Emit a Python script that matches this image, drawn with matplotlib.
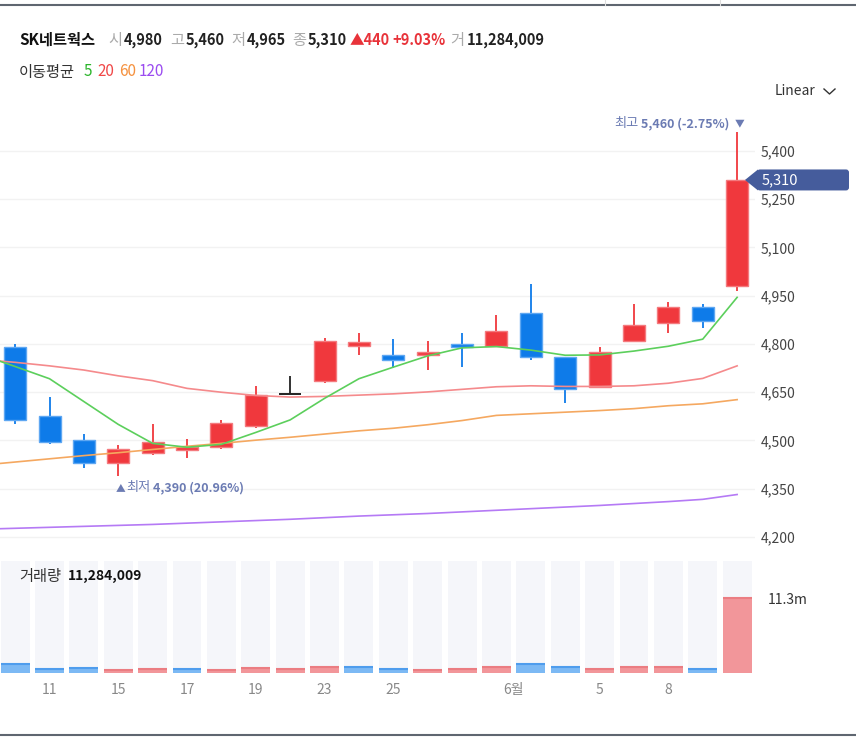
import numpy as np
import matplotlib
matplotlib.use('Agg')
import matplotlib.pyplot as plt
from matplotlib.patches import FancyBboxPatch, Polygon

plt.rcParams['font.family'] = ['Noto Sans CJK KR', 'DejaVu Sans']

# SK네트웍스 daily candles, 2023-05-10 ~ 2023-06-12
name = 'SK네트웍스'
dates = ['05-10', '05-11', '05-12', '05-15', '05-16', '05-17', '05-18', '05-19',
         '05-22', '05-23', '05-24', '05-25', '05-26', '05-30', '05-31', '06-01',
         '06-02', '06-05', '06-07', '06-08', '06-09', '06-12']
opens = [4790, 4575, 4500, 4430, 4460, 4470, 4480, 4545, 4645, 4685, 4795,
         4765, 4765, 4800, 4795, 4895, 4760, 4665, 4810, 4865, 4915, 4980]
highs = [4800, 4635, 4520, 4485, 4550, 4505, 4565, 4670, 4700, 4820, 4835,
         4815, 4810, 4835, 4890, 4985, 4760, 4790, 4925, 4930, 4925, 5460]
lows = [4550, 4490, 4415, 4390, 4455, 4445, 4475, 4540, 4645, 4680, 4765,
        4725, 4720, 4730, 4790, 4750, 4615, 4665, 4805, 4835, 4850, 4965]
closes = [4565, 4495, 4430, 4475, 4495, 4480, 4555, 4640, 4645, 4810, 4805,
          4750, 4775, 4790, 4840, 4760, 4660, 4775, 4860, 4915, 4870, 5310]
volumes = [1310000, 550000, 760000, 400000, 550000, 550000, 400000, 760000,
           550000, 960000, 900000, 550000, 400000, 550000, 900000, 1310000,
           900000, 550000, 900000, 900000, 550000, 11284009]

# moving averages, first value is the session before the visible window
ma_x = list(range(-1, 22))
ma5 = [4767, 4730, 4692, 4621, 4550, 4491, 4479, 4488, 4525, 4564, 4631, 4692,
       4728, 4763, 4788, 4792, 4781, 4765, 4766, 4778, 4793, 4815, 4945]
ma20 = [4752, 4743, 4732, 4719, 4701, 4686, 4662, 4650, 4640, 4635, 4637, 4641,
        4645, 4651, 4659, 4667, 4670, 4668, 4668, 4670, 4678, 4693, 4732]
ma60 = [4423, 4433, 4443, 4453, 4462, 4472, 4482, 4491, 4501, 4510, 4520, 4530,
        4538, 4549, 4562, 4578, 4583, 4588, 4593, 4599, 4608, 4614, 4627]
ma120 = [4224, 4227, 4230, 4233, 4236, 4239, 4243, 4247, 4251, 4255, 4260, 4265,
         4269, 4273, 4278, 4283, 4288, 4293, 4298, 4304, 4310, 4317, 4332]

price_ticks = [4200, 4350, 4500, 4650, 4800, 4950, 5100, 5250, 5400]
tick_pos = [1, 3, 5, 7, 9, 11, 14.5, 17, 19]
tick_labels = ['11', '15', '17', '19', '23', '25', '6월', '5', '8']

RED, RED_EDGE = '#f0383d', '#f47a7e'
BLUE, BLUE_EDGE = '#0e7be9', '#5ea7f2'
ANNO = '#6b7bb3'

W, H = 856, 740
fig = plt.figure(figsize=(W / 100, H / 100), dpi=100)


def rect(l, t, r, b):
    return [l / W, 1 - b / H, (r - l) / W, (b - t) / H]


ax = fig.add_axes(rect(0, 100, 755, 550))
axv = fig.add_axes(rect(0, 561, 755, 673))
ov = fig.add_axes([0, 0, 1, 1], zorder=5)
ov.set_xlim(0, W)
ov.set_ylim(H, 0)
ov.axis('off')

x = np.arange(len(closes))
xlim = (-0.44, 21.52)

# candles
for i in x:
    o, hi, lo, c = opens[i], highs[i], lows[i], closes[i]
    if c > o:
        col, ec = RED, RED_EDGE
    elif c < o:
        col, ec = BLUE, BLUE_EDGE
    else:
        col = ec = '#222222'
    ax.vlines(i, lo, hi, color=col, lw=1.3, zorder=3)
    if c == o:
        ax.hlines(c, i - 0.32, i + 0.32, color=col, lw=1.4, zorder=4)
    else:
        ax.bar(i, abs(c - o), 0.64, bottom=min(o, c), color=col,
               edgecolor=ec, linewidth=1, zorder=4)

ax.plot(ma_x, ma120, color='#b57af5', lw=1.2, zorder=5)
ax.plot(ma_x, ma60, color='#f5a860', lw=1.2, zorder=5)
ax.plot(ma_x, ma20, color='#f58a8c', lw=1.2, zorder=5)
ax.plot(ma_x, ma5, color='#5ccf5c', lw=1.2, zorder=5)

ax.set_xlim(*xlim)
ax.set_ylim(5400 - (550 - 151) * 3.109, 5400 + (151 - 100) * 3.109)
ax.set_yticks(price_ticks)
ax.set_yticklabels([f'{v:,}' for v in price_ticks])
ax.yaxis.tick_right()
ax.tick_params(axis='y', length=0, pad=4, labelsize=10, labelcolor='#444444')
ax.set_xticks([])
ax.grid(axis='y', color='#f2f2f2', lw=1)
ax.set_axisbelow(True)
for s in ax.spines.values():
    s.set_visible(False)

# volume
vmax = max(volumes) * 1.5
prev = [opens[0]] + closes[:-1]
up = [c > p for c, p in zip(closes, prev)]
axv.bar(x, vmax, 0.84, color='#f5f6fa', zorder=1)
axv.bar(x, volumes, 0.84, color=['#f2969a' if u else '#7cb9f4' for u in up], zorder=2)
axv.hlines(volumes, x - 0.42, x + 0.42, colors=['#eb7d82' if u else '#4f9ded' for u in up],
           lw=1.5, zorder=3)
axv.set_xlim(*xlim)
axv.set_ylim(0, vmax)
axv.set_xticks(tick_pos)
axv.set_xticklabels(tick_labels)
axv.set_yticks([volumes[-1]])
axv.set_yticklabels([f'{volumes[-1] / 1e6:.1f}m'])
axv.yaxis.tick_right()
axv.tick_params(axis='x', length=0, pad=7, labelsize=10, labelcolor='#888888')
axv.tick_params(axis='y', length=0, pad=9, labelsize=10, labelcolor='#333333')
for s in axv.spines.values():
    s.set_visible(False)

# header
chg = closes[-1] - closes[-2]
pct = chg / closes[-2] * 100
head = [(19, name, '#111111', 'bold', 11),
        (108, '시', '#aaaaaa', 'normal', 11), (124, f'{opens[-1]:,}', '#222222', 'bold', 10.5),
        (170, '고', '#aaaaaa', 'normal', 11), (186, f'{highs[-1]:,}', '#222222', 'bold', 10.5),
        (231, '저', '#aaaaaa', 'normal', 11), (247, f'{lows[-1]:,}', '#222222', 'bold', 10.5),
        (292, '종', '#aaaaaa', 'normal', 11), (308, f'{closes[-1]:,}', '#222222', 'bold', 10.5),
        (350, f'▲{chg}', '#e8333a', 'bold', 10.5), (392, f'+{pct:.2f}%', '#e8333a', 'bold', 10.5),
        (450, '거', '#aaaaaa', 'normal', 11), (467, f'{volumes[-1]:,}', '#222222', 'bold', 10.5)]
for hx, t, c, w, fs in head:
    ov.text(hx, 40, t, color=c, fontweight=w, fontsize=fs, va='center', ha='left')

for hx, t, c in [(19, '이동평균', '#333333'), (84, '5', '#2cb52c'), (97, '20', '#f04848'),
                 (119, '60', '#f5913e'), (139, '120', '#9b4cf0')]:
    ov.text(hx, 72, t, color=c, fontsize=11, va='center', ha='left')

ov.text(775, 91, 'Linear', color='#333333', fontsize=10, va='center', ha='left')
ov.plot([824, 829.5, 835], [89, 94, 89], color='#333333', lw=1)

# frame lines
ov.plot([0, W], [5, 5], color='#5f6670', lw=1.5)
ov.plot([605, 605], [0, 5], color='#dddddd', lw=0.8)
ov.plot([720, 720], [0, 5], color='#dddddd', lw=0.8)
ov.plot([0, W], [735, 735], color='#5f6670', lw=1.5)

renderer = fig.canvas.get_renderer()


def to_px(axes, xv, yv):
    d = axes.transData.transform((xv, yv))
    return d[0], H - d[1]


# high / low markers
ihi = int(np.argmax(highs))
hx, hy = to_px(ax, ihi, highs[ihi])
ov.text(hx + 2, hy - 8, '▼', color=ANNO, fontsize=7, ha='center', va='center')
tb = ov.text(hx - 8, hy - 8, f'{highs[ihi]:,} ({(closes[-1] - highs[ihi]) / highs[ihi] * 100:.2f}%)',
             color=ANNO, fontsize=9, fontweight='bold', ha='right', va='center')
bb = tb.get_window_extent(renderer)
ov.text(bb.x0 - 2, hy - 8, '최고', color=ANNO, fontsize=9.5, ha='right', va='center')

ilo = int(np.argmin(lows))
lx, ly = to_px(ax, ilo, lows[ilo])
ov.text(lx + 2, ly + 12, '▲', color=ANNO, fontsize=7, ha='center', va='center')
tl = ov.text(lx + 8, ly + 12, '최저', color=ANNO, fontsize=9.5, ha='left', va='center')
bb = tl.get_window_extent(renderer)
ov.text(bb.x1 + 2, ly + 12, f'{lows[ilo]:,} ({(closes[-1] - lows[ilo]) / lows[ilo] * 100:.2f}%)',
        color=ANNO, fontsize=9, fontweight='bold', ha='left', va='center')

# current price tag
_, cy = to_px(ax, 0, closes[-1])
ov.add_patch(FancyBboxPatch((757, cy - 10.5), 92, 21, boxstyle='round,pad=0,rounding_size=3',
                            fc='#455c9c', ec='none'))
ov.add_patch(Polygon([(745, cy), (758, cy - 10.5), (758, cy + 10.5)], fc='#455c9c', ec='none'))
ov.text(762, cy, f'{closes[-1]:,}', color='white', fontsize=10.5, va='center', ha='left')

# volume label
ov.text(19, 576, '거래량', color='#333333', fontsize=11, va='center', ha='left')
ov.text(68, 576, f'{volumes[-1]:,}', color='#111111', fontsize=10, fontweight='bold',
        va='center', ha='left')

fig.savefig('out.png', dpi=100, facecolor='white')
